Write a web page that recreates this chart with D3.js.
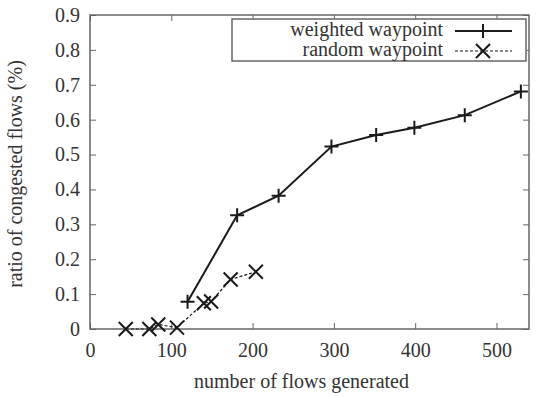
<!DOCTYPE html>
<html>
<head>
<meta charset="utf-8">
<script src="https://cdn.jsdelivr.net/npm/d3@7"></script>
<style>
  body { margin: 0; background: #fff; }
  #chart text { font-family: "Liberation Serif" !important; font-size: 20px; fill: #333; }
</style>
</head>
<body>
<svg id="chart" width="537" height="396" font-family="Liberation Serif"></svg>
<script>
// values
const weightedX = [120, 181, 232, 297, 352, 399, 461, 530];
const weightedY = [0.078, 0.326, 0.382, 0.523, 0.556, 0.577, 0.613, 0.681];
const randomX = [44, 73, 84, 107, 140, 149, 173, 204];
const randomY = [0.0, 0.0, 0.013, 0.004, 0.074, 0.079, 0.142, 0.164];
const xTicks = [0, 100, 200, 300, 400, 500];
const yTicks = [0, 0.1, 0.2, 0.3, 0.4, 0.5, 0.6, 0.7, 0.8, 0.9];

const width = 537, height = 396;
const margin = { top: 15, right: 8, bottom: 67, left: 90 };
const w = width - margin.left - margin.right;
const h = height - margin.top - margin.bottom;
const fontFamily = 'Liberation Serif';
const fontSize = 20;
const textColor = '#333';

const xScale = d3.scaleLinear().domain([0, 540]).range([0, w]);
const yScale = d3.scaleLinear().domain([0, 0.9]).range([h, 0]);

const svgEl = d3.select('#chart');
const svg = svgEl.append('g')
    .attr('transform', `translate(${margin.left},${margin.top})`);

const frameColor = '#666';

// bottom / left axes with labels, ticks pointing inward
const xAxis = d3.axisBottom(xScale).tickValues(xTicks).tickSize(-6).tickPadding(14)
    .tickFormat(d3.format('d'));
const xg = svg.append('g').attr('transform', `translate(0,${h})`).call(xAxis);
const yAxis = d3.axisLeft(yScale).tickValues(yTicks).tickSize(-6).tickPadding(10)
    .tickFormat((v) => v === 0 ? '0' : d3.format('.1f')(v));
const yg = svg.append('g').call(yAxis);

// mirrored ticks on top and right
const xg2 = svg.append('g').call(d3.axisTop(xScale).tickValues(xTicks).tickSize(-6).tickFormat(''));
const yg2 = svg.append('g').attr('transform', `translate(${w},0)`)
    .call(d3.axisRight(yScale).tickValues(yTicks).tickSize(-6).tickFormat(''));

[xg, yg, xg2, yg2].forEach((g) => {
    g.attr('font-family', fontFamily).attr('font-size', fontSize);
    g.select('.domain').remove();
    g.selectAll('line').attr('stroke', frameColor);
});

svg.append('rect')
    .attr('width', w).attr('height', h)
    .attr('fill', 'none').attr('stroke', frameColor).attr('stroke-width', 1.5);

// axis titles
svg.append('text')
    .attr('x', w / 2 - 8).attr('y', h + 59)
    .attr('text-anchor', 'middle')
    .text('number of flows generated');
svg.append('text')
    .attr('transform', `translate(${-margin.left + 22},${h / 2 + 2}) rotate(-90)`)
    .attr('text-anchor', 'middle')
    .text('ratio of congested flows (%)');

const lineColor = '#1a1a1a';
const ms = 7;

const plusPath = (cx, cy) => `M${cx - ms},${cy}H${cx + ms}M${cx},${cy - ms}V${cy + ms}`;
const crossPath = (cx, cy) => `M${cx - ms},${cy - ms}L${cx + ms},${cy + ms}M${cx - ms},${cy + ms}L${cx + ms},${cy - ms}`;

const DrawSeries = (xs, ys, dash, width, marker) => {
    const pts = xs.map((x, i) => [xScale(x), yScale(ys[i])]);
    svg.append('path')
        .attr('d', d3.line()(pts))
        .attr('stroke', lineColor)
        .attr('stroke-width', width)
        .attr('stroke-dasharray', dash)
        .attr('fill', 'none');
    svg.append('path')
        .attr('d', pts.map((p) => marker(p[0], p[1])).join(''))
        .attr('stroke', lineColor)
        .attr('stroke-width', 2)
        .attr('fill', 'none');
};

DrawSeries(randomX, randomY, '3,2', 1.2, crossPath);
DrawSeries(weightedX, weightedY, null, 2, plusPath);

// legend
const lg = svg.append('g');
lg.append('rect')
    .attr('x', 142).attr('y', 4).attr('width', 294).attr('height', 42)
    .attr('fill', '#fff').attr('stroke', frameColor).attr('stroke-width', 1.5);
const legendItems = [
    { label: 'weighted waypoint', dash: null, width: 2, marker: plusPath },
    { label: 'random waypoint', dash: '3,2', width: 1.2, marker: crossPath },
];
legendItems.forEach((d, i) => {
    const cy = 16 + i * 20;
    lg.append('text')
        .attr('x', 353).attr('y', cy + 5)
        .attr('text-anchor', 'end')
        .text(d.label);
    lg.append('path')
        .attr('d', `M365,${cy}H422`)
        .attr('stroke', lineColor).attr('stroke-width', d.width)
        .attr('stroke-dasharray', d.dash);
    lg.append('path')
        .attr('d', d.marker(393, cy))
        .attr('stroke', lineColor).attr('stroke-width', 2).attr('fill', 'none');
});

// one font for every text
svgEl.selectAll('text')
    .attr('font-family', fontFamily)
    .attr('font-size', fontSize)
    .style('font-family', '"Liberation Serif"')
    .style('font-size', fontSize + 'px')
    .style('fill', textColor);
</script>
</body>
</html>
